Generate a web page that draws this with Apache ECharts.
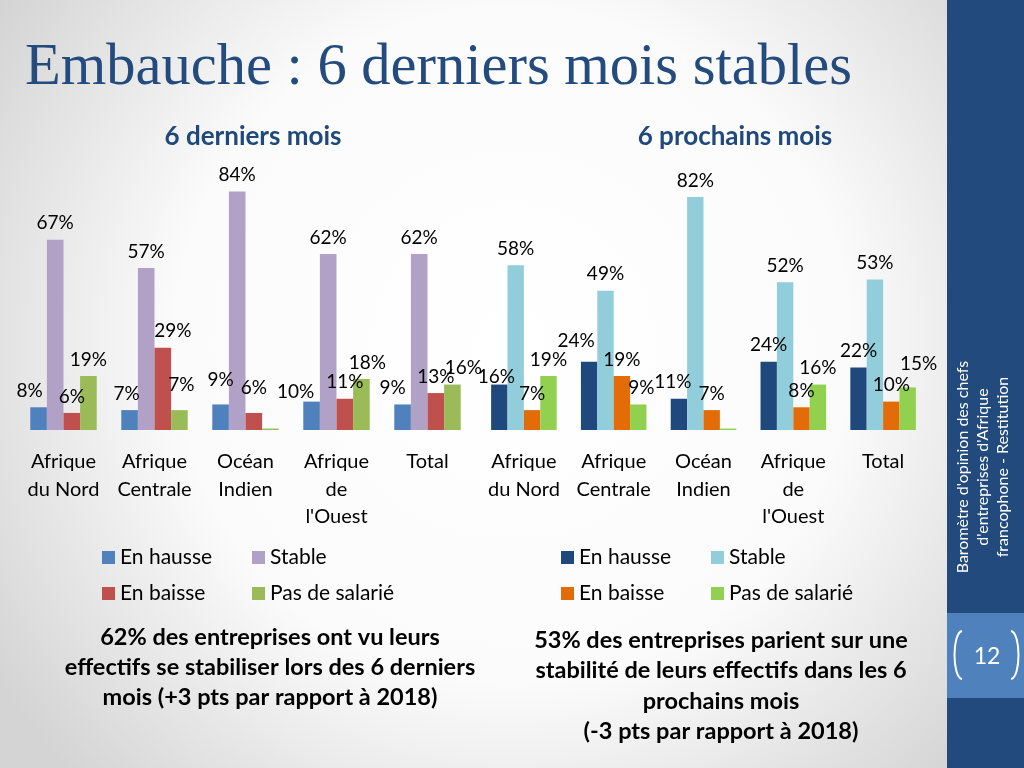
<!DOCTYPE html>
<html>
<head>
<meta charset="utf-8">
<script src="https://cdn.jsdelivr.net/npm/echarts@6/dist/echarts.min.js"></script>
<style>
  html, body { margin: 0; padding: 0; background: #fff; }
  #chart { width: 1024px; height: 768px; }
</style>
</head>
<body>
<div id="chart"></div>
<script>
// ---- Data ----
const categories = ['Afrique\ndu Nord', 'Afrique\nCentrale', 'Océan\nIndien', 'Afrique\nde\nl\'Ouest', 'Total'];
const seriesNames = ['En hausse', 'Stable', 'En baisse', 'Pas de salarié'];

// 6 derniers mois
const pastHausse = [8, 7, 9, 10, 9];
const pastStable = [67, 57, 84, 62, 62];
const pastBaisse = [6, 29, 6, 11, 13];
const pastPasSalarie = [19, 7, 0.5, 18, 16];

// 6 prochains mois
const nextHausse = [16, 24, 11, 24, 22];
const nextStable = [58, 49, 82, 52, 53];
const nextBaisse = [7, 19, 7, 8, 10];
const nextPasSalarie = [19, 9, 0.5, 16, 15];

const mainTitle = 'Embauche : 6 derniers mois stables';
const chartTitles = ['6 derniers mois', '6 prochains mois'];
const leftNote = '62% des entreprises ont vu leurs\neffectifs se stabiliser lors des 6 derniers\nmois (+3 pts par rapport à 2018)';
const rightNote = '53% des entreprises parient sur une\nstabilité de leurs effectifs dans les 6\nprochains mois\n(-3 pts par rapport à 2018)';
const sideText = 'Baromètre d\'opinion des chefs\nd\'entreprises d\'Afrique\nfrancophone - Restitution';
const pageNumber = '12';

// ---- Styles ----
const pastColors = ['#4F81BD', '#B2A1C7', '#C0504D', '#9BBB59'];
const nextColors = ['#1F497D', '#92CDDC', '#E36C09', '#92D050'];
const FONT = 'Lato, "Open Sans", sans-serif';

// Label nudges (pixels [dx, dy]) reproducing the manually placed data labels of the original
const pastLabelNudge = [
  [[-9, 0], [-3, 0], [0, -8], [-16, 7], [-10, 0]],
  [[0, 0], [0, 0], [0, 0], [0, 0], [0, 0]],
  [[0, 0], [10, 0], [0, -9], [0, 0], [0, 0]],
  [[0, 0], [2, -9], [0, 0], [6, 0], [11, 0]]
];
const nextLabelNudge = [
  [[-3, 9], [-13, -4], [-6, 0], [0, 0], [0, 0]],
  [[0, 0], [0, 0], [0, 0], [0, 0], [0, 0]],
  [[0, 0], [0, 0], [0, 0], [0, 0], [0, 0]],
  [[0, 0], [3, 0], [0, 0], [0, 0], [11, -7]]
];

const chart = echarts.init(document.getElementById('chart'), null, { renderer: 'canvas' });

function makeSeries(data, idx, axisIdx, colors, nudges) {
  return {
    type: 'bar',
    name: seriesNames[idx],
    xAxisIndex: axisIdx,
    yAxisIndex: axisIdx,
    data: data.map((v, i) => ({ value: v, label: { offset: nudges[idx][i] } })),
    barGap: '0%',
    barCategoryGap: '27%',
    itemStyle: { color: colors[idx] },
    label: {
      show: true,
      position: 'top',
      distance: 7,
      fontFamily: FONT,
      fontSize: 19,
      color: '#000',
      formatter: p => (p.value < 1 ? '' : p.value + '%')
    },
    emphasis: { disabled: true }
  };
}

function makeLegend(name, color, left, top) {
  return {
    data: [{ name: name, itemStyle: { color: color } }],
    left: left, top: top, padding: 0,
    icon: 'rect', itemWidth: 13, itemHeight: 13, itemGap: 5,
    selectedMode: false,
    textStyle: { fontFamily: FONT, fontSize: 21, color: '#000' }
  };
}

const xAxisCommon = {
  type: 'category',
  data: categories,
  axisLine: { show: false },
  axisTick: { show: false },
  axisLabel: { fontFamily: FONT, fontSize: 20, color: '#000', lineHeight: 27.5, margin: 18, interval: 0 }
};
const yAxisCommon = { type: 'value', min: 0, max: 100, show: false, splitLine: { show: false } };

function bracket(x1, xc) {
  return {
    type: 'bezierCurve', silent: true,
    shape: { x1: x1, y1: 631, x2: x1, y2: 679, cpx1: xc, cpy1: 633, cpx2: xc, cpy2: 677 },
    style: { stroke: '#fff', lineWidth: 2, fill: null }
  };
}

const option = {
  animation: false,
  grid: [
    { left: 18, top: 146, width: 455, height: 284 },
    { left: 479, top: 146, width: 449, height: 284 }
  ],
  xAxis: [Object.assign({ gridIndex: 0 }, xAxisCommon), Object.assign({ gridIndex: 1 }, xAxisCommon)],
  yAxis: [Object.assign({ gridIndex: 0 }, yAxisCommon), Object.assign({ gridIndex: 1 }, yAxisCommon)],
  legend: [
    makeLegend(seriesNames[0], pastColors[0], 102, 547),
    makeLegend(seriesNames[1], pastColors[1], 252, 547),
    makeLegend(seriesNames[2], pastColors[2], 102, 583),
    makeLegend(seriesNames[3], pastColors[3], 252, 583),
    makeLegend(seriesNames[0], nextColors[0], 561, 547),
    makeLegend(seriesNames[1], nextColors[1], 711, 547),
    makeLegend(seriesNames[2], nextColors[2], 561, 583),
    makeLegend(seriesNames[3], nextColors[3], 711, 583)
  ],
  series: [
    makeSeries(pastHausse, 0, 0, pastColors, pastLabelNudge),
    makeSeries(pastStable, 1, 0, pastColors, pastLabelNudge),
    makeSeries(pastBaisse, 2, 0, pastColors, pastLabelNudge),
    makeSeries(pastPasSalarie, 3, 0, pastColors, pastLabelNudge),
    makeSeries(nextHausse, 0, 1, nextColors, nextLabelNudge),
    makeSeries(nextStable, 1, 1, nextColors, nextLabelNudge),
    makeSeries(nextBaisse, 2, 1, nextColors, nextLabelNudge),
    makeSeries(nextPasSalarie, 3, 1, nextColors, nextLabelNudge)
  ],
  graphic: [
    {
      type: 'rect', z: -10, silent: true,
      shape: { x: 0, y: 0, width: 1024, height: 768 },
      style: {
        fill: {
          type: 'radial', x: 0.5, y: 0.45, r: 0.8,
          colorStops: [{ offset: 0, color: '#ffffff' }, { offset: 0.55, color: '#fbfbfb' }, { offset: 1, color: '#d4d4d4' }]
        }
      }
    },
    { type: 'rect', z: -5, silent: true, shape: { x: 947, y: 0, width: 77, height: 768 }, style: { fill: '#224A7C' } },
    { type: 'rect', z: -4, silent: true, shape: { x: 947, y: 613, width: 77, height: 85 }, style: { fill: '#4F81BD' } },
    bracket(962, 952),
    bracket(1011, 1021),
    {
      type: 'text', silent: true, x: 987, y: 657,
      style: { text: pageNumber, fill: '#fff', fontFamily: FONT, fontSize: 23, align: 'center', verticalAlign: 'middle' }
    },
    {
      type: 'text', silent: true, x: 983, y: 467, rotation: Math.PI / 2,
      style: { text: sideText, fill: '#fff', fontFamily: FONT, fontSize: 16, lineHeight: 20, align: 'center', verticalAlign: 'middle' }
    },
    {
      type: 'text', silent: true, x: 25, y: 69,
      style: { text: mainTitle, fill: '#234B7D', fontFamily: '"Liberation Serif", serif', fontSize: 58.5, align: 'left', verticalAlign: 'middle' }
    },
    {
      type: 'text', silent: true, x: 253, y: 137,
      style: { text: chartTitles[0], fill: '#1F497D', fontFamily: FONT, fontWeight: 'bold', fontSize: 26, align: 'center', verticalAlign: 'middle' }
    },
    {
      type: 'text', silent: true, x: 735, y: 137,
      style: { text: chartTitles[1], fill: '#1F497D', fontFamily: FONT, fontWeight: 'bold', fontSize: 26, align: 'center', verticalAlign: 'middle' }
    },
    {
      type: 'text', silent: true, x: 270, y: 667,
      style: { text: leftNote, fill: '#000', fontFamily: FONT, fontWeight: 'bold', fontSize: 23.5, lineHeight: 30, align: 'center', verticalAlign: 'middle' }
    },
    {
      type: 'text', silent: true, x: 721, y: 686,
      style: { text: rightNote, fill: '#000', fontFamily: FONT, fontWeight: 'bold', fontSize: 23.5, lineHeight: 30.5, align: 'center', verticalAlign: 'middle' }
    }
  ]
};

chart.setOption(option);
</script>
</body>
</html>
